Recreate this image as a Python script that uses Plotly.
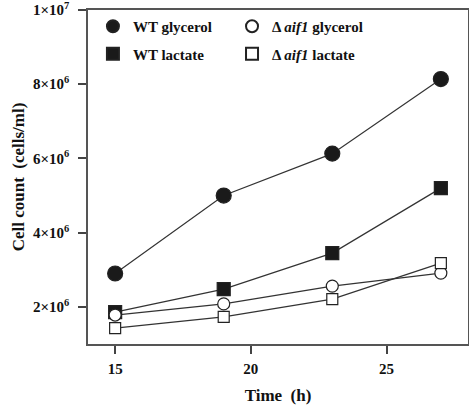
import plotly.graph_objects as go

time_h = [15, 19, 23, 27]
wt_glycerol = [2.9e6, 5.0e6, 6.13e6, 8.14e6]
wt_lactate = [1.86e6, 2.48e6, 3.45e6, 5.2e6]
aif1_glycerol = [1.78e6, 2.08e6, 2.56e6, 2.91e6]
aif1_lactate = [1.43e6, 1.73e6, 2.21e6, 3.18e6]

y_tickvals = [2e6, 4e6, 6e6, 8e6, 1e7]
y_ticktext = ["2×10<sup>6</sup>", "4×10<sup>6</sup>", "6×10<sup>6</sup>", "8×10<sup>6</sup>", "1×10<sup>7</sup>"]
x_tickvals = [15, 20, 25]
x_ticktext = ["15", "20", "25"]

FONT = "Liberation Serif"
LINE = "#333333"

fig = go.Figure()

series = [
    (wt_glycerol, "<b>WT glycerol</b>", "circle", "#1a1a1a", 15, "legend", "a"),
    (wt_lactate, "<b>WT lactate</b>", "square", "#1a1a1a", 13, "legend", "b"),
    (aif1_glycerol, "<b>Δ <i>aif1</i> glycerol</b>", "circle", "white", 12, "legend2", "c"),
    (aif1_lactate, "<b>Δ <i>aif1</i> lactate</b>", "square", "white", 11, "legend2", "d"),
]

for y, name, symbol, fill, size, legend, group in series:
    fig.add_trace(go.Scatter(
        x=time_h, y=y, mode="lines", showlegend=False, hoverinfo="skip",
        line=dict(color=LINE, width=1.2),
    ))
for y, name, symbol, fill, size, legend, group in series:
    fig.add_trace(go.Scatter(
        x=time_h, y=y, name=name, mode="markers",
        marker=dict(symbol=symbol, size=size, color=fill,
                    line=dict(color="#222222", width=1.2)),
        legend=legend, legendgroup=group,
    ))

legend_common = dict(
    font=dict(family=FONT, size=15, color="#111111"),
    bgcolor="rgba(0,0,0,0)", borderwidth=0,
    traceorder="grouped", tracegroupgap=5,
    xanchor="left", yanchor="top", itemsizing="constant",
)

fig.update_layout(
    width=469, height=406,
    margin=dict(l=88, r=1, t=10, b=62, autoexpand=False),
    paper_bgcolor="white", plot_bgcolor="white",
    font=dict(family=FONT, size=14, color="#111111"),
    showlegend=True,
    legend=dict(x=0.013, y=1.0, **legend_common),
    legend2=dict(x=0.379, y=1.0, **legend_common),
    xaxis=dict(
        range=[14, 28], tickvals=x_tickvals, ticktext=["<b>" + t + "</b>" for t in x_ticktext],
        ticks="outside", ticklen=8, tickwidth=1.5, tickcolor="#444444",
        showline=True, linecolor="#555555", linewidth=1.5, mirror=True,
        showgrid=False, zeroline=False, automargin=False, ticklabeloverflow="allow",
        ticklabelstandoff=2,
        title=dict(text="<b>Time  (h)</b>", font=dict(family=FONT, size=17), standoff=13),
        tickfont=dict(family=FONT, size=15),
    ),
    yaxis=dict(
        range=[1e6, 1e7], tickvals=y_tickvals, ticktext=["<b>" + t + "</b>" for t in y_ticktext],
        ticks="outside", ticklen=8, tickwidth=1.5, tickcolor="#444444",
        showline=True, linecolor="#555555", linewidth=1.5, mirror=True,
        showgrid=False, zeroline=False, automargin=False, ticklabeloverflow="allow",
        ticklabelstandoff=6,
        title=dict(text="<b>Cell count  (cells/ml)</b>", font=dict(family=FONT, size=17), standoff=4),
        tickfont=dict(family=FONT, size=15),
    ),
)

fig.write_html("out.html", config={"displayModeBar": False},
               post_script="document.body.style.margin='0px';")
